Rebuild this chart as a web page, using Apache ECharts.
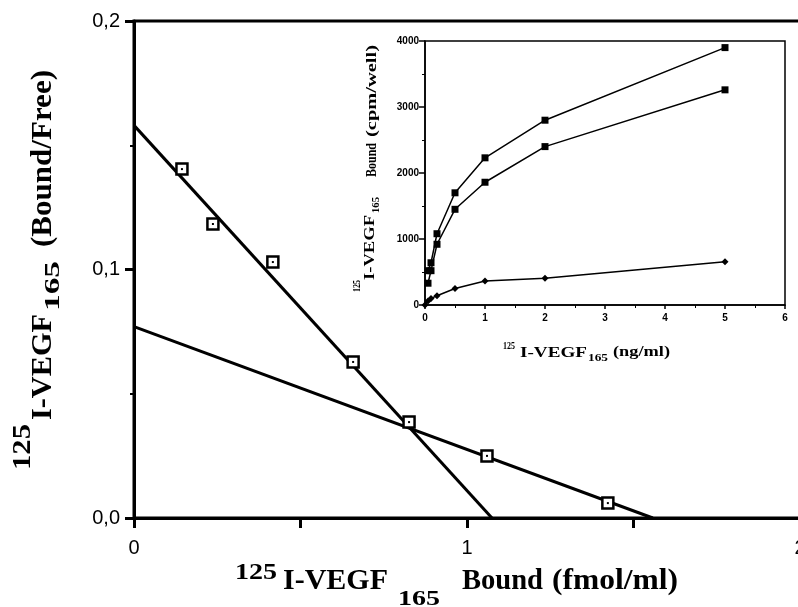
<!DOCTYPE html>
<html>
<head>
<meta charset="utf-8">
<script src="https://cdn.jsdelivr.net/npm/echarts@6/dist/echarts.min.js"></script>
<style>
  html, body { margin: 0; padding: 0; background: #fff; }
  #chart { width: 798px; height: 607px; }
</style>
</head>
<body>
<div id="chart"></div>
<script>
// Scatchard plot (main)
const boundFmol = [0.144, 0.237, 0.417, 0.658, 0.826, 1.06, 1.423];
const boundFree = [0.1404, 0.1183, 0.103, 0.0628, 0.0386, 0.025, 0.006];
// fitted lines, end points
const fitHighX = [0, 1.075];
const fitHighY = [0.158, 0];
const fitLowX = [0, 1.558];
const fitLowY = [0.077, 0];

// inset saturation curves
const concNg = [0.05, 0.1, 0.2, 0.5, 1, 2, 5];
const totalBound = [520, 640, 1080, 1700, 2230, 2800, 3900];
const specificBound = [330, 520, 920, 1450, 1860, 2400, 3260];
const concNgNs = [0, 0.05, 0.1, 0.2, 0.5, 1, 2, 5];
const nonspecBound = [0, 60, 100, 140, 250, 365, 405, 655];

const pairs = (xs, ys) => xs.map((x, i) => [x, ys[i]]);

const serif = "'Liberation Serif', 'DejaVu Serif', serif";
const sans = "'Liberation Sans', Arial, sans-serif";

// measure text so each title piece can be stretched to the scanned length
const measureCtx = document.createElement('canvas').getContext('2d');

// one piece of a title (super/subscripts are separate pieces)
function piece(text, x, y, size, len, vertical) {
    const font = 'bold ' + size + 'px ' + serif;
    measureCtx.font = font;
    const w = measureCtx.measureText(text).width;
    return {
        type: 'text',
        x: x,
        y: y,
        rotation: vertical ? Math.PI / 2 : 0,
        scaleX: len / w,
        z: 100,
        style: { text: text, font: font, fill: '#000', align: 'left', verticalAlign: 'middle' }
    };
}

const options = {
    animation: false,
    backgroundColor: '#fff',
    grid: [
        { left: 134, top: 21, width: 666, height: 497, show: true, borderColor: '#000', borderWidth: 3, outerBoundsMode: 'none' },
        { left: 425, top: 41, width: 360, height: 264, show: true, borderColor: '#000', borderWidth: 1.5, outerBoundsMode: 'none' }
    ],
    xAxis: [
        {
            gridIndex: 0, type: 'value', min: 0, max: 2, interval: 0.5,
            splitLine: { show: false },
            axisLine: { lineStyle: { color: '#000', width: 3 } },
            axisTick: { length: 10, lineStyle: { color: '#000', width: 3 } },
            axisLabel: {
                margin: 20, color: '#000', fontSize: 20, fontFamily: sans,
                formatter: v => (v % 1 === 0 ? String(v) : '')
            }
        },
        {
            gridIndex: 1, type: 'value', min: 0, max: 6, interval: 1,
            splitLine: { show: false },
            axisLine: { lineStyle: { color: '#000', width: 1.5 } },
            axisTick: { length: 4, lineStyle: { color: '#000', width: 1.5 } },
            minorTick: { show: true, splitNumber: 2, length: 3, lineStyle: { color: '#000', width: 1 } },
            axisLabel: { margin: 8, color: '#000', fontSize: 10, fontWeight: 'bold', fontFamily: sans, formatter: v => String(v) }
        }
    ],
    yAxis: [
        {
            gridIndex: 0, type: 'value', min: 0, max: 0.2, interval: 0.1,
            splitLine: { show: false },
            axisLine: { lineStyle: { color: '#000', width: 3 } },
            axisTick: { length: 9, lineStyle: { color: '#000', width: 3 } },
            minorTick: { show: true, splitNumber: 2, length: 4, lineStyle: { color: '#000', width: 2 } },
            axisLabel: {
                margin: 14, color: '#000', fontSize: 20, fontFamily: sans,
                formatter: v => v.toFixed(1).replace('.', ',')
            }
        },
        {
            gridIndex: 1, type: 'value', min: 0, max: 4000, interval: 1000,
            splitLine: { show: false },
            axisLine: { lineStyle: { color: '#000', width: 1.5 } },
            axisTick: { length: 6, lineStyle: { color: '#000', width: 1.5 } },
            minorTick: { show: true, splitNumber: 2, length: 3, lineStyle: { color: '#000', width: 1 } },
            axisLabel: { margin: 6, color: '#000', fontSize: 10, fontWeight: 'bold', fontFamily: sans, formatter: v => String(v) }
        }
    ],
    series: [
        {
            type: 'line', xAxisIndex: 0, yAxisIndex: 0, data: pairs(fitHighX, fitHighY),
            symbol: 'none', lineStyle: { color: '#000', width: 3 }
        },
        {
            type: 'line', xAxisIndex: 0, yAxisIndex: 0, data: pairs(fitLowX, fitLowY),
            symbol: 'none', lineStyle: { color: '#000', width: 3 }
        },
        {
            type: 'scatter', xAxisIndex: 0, yAxisIndex: 0, data: pairs(boundFmol, boundFree),
            symbol: 'rect', symbolSize: 11, z: 5,
            itemStyle: { color: '#fff', borderColor: '#000', borderWidth: 2.5, opacity: 1 }
        },
        {
            // dot inside the open squares
            type: 'scatter', xAxisIndex: 0, yAxisIndex: 0, data: pairs(boundFmol, boundFree),
            symbol: 'rect', symbolSize: 2, z: 6,
            itemStyle: { color: '#000', opacity: 1 }
        },
        {
            type: 'line', xAxisIndex: 1, yAxisIndex: 1, data: pairs(concNg, totalBound),
            symbol: 'rect', symbolSize: 7, lineStyle: { color: '#000', width: 1.5 },
            itemStyle: { color: '#000' }
        },
        {
            type: 'line', xAxisIndex: 1, yAxisIndex: 1, data: pairs(concNg, specificBound),
            symbol: 'rect', symbolSize: 7, lineStyle: { color: '#000', width: 1.5 },
            itemStyle: { color: '#000' }
        },
        {
            type: 'line', xAxisIndex: 1, yAxisIndex: 1, data: pairs(concNgNs, nonspecBound),
            symbol: 'diamond', symbolSize: 7, lineStyle: { color: '#000', width: 1.5 },
            itemStyle: { color: '#000' }
        }
    ],
    graphic: [
        // main x title
        piece('125', 235, 573, 24, 42),
        piece('I-VEGF', 283, 582, 29, 105),
        piece('165', 398, 599, 22, 42),
        piece('Bound', 462, 582, 29, 81),
        piece('(fmol/ml)', 552, 582, 29, 126),
        // main y title, reads bottom to top
        piece('125', 23, 470, 26, 46, true),
        piece('I-VEGF', 43, 420, 30, 106, true),
        piece('165', 53, 311, 22, 50, true),
        piece('(Bound/Free)', 43, 247, 30, 177, true),
        // inset x title
        piece('125', 503, 346, 10, 12),
        piece('I-VEGF', 520, 353, 15, 67),
        piece('165', 588, 358, 11, 20),
        piece('(ng/ml)', 613, 352, 15, 57),
        // inset y title
        piece('125', 357, 292, 10, 12, true),
        piece('I-VEGF', 370, 280, 15, 65, true),
        piece('165', 376, 213, 11, 16, true),
        piece('Bound', 372, 177, 15, 34, true),
        piece('(cpm/well)', 372, 137, 15, 92, true)
    ]
};

var myChart = echarts.init(document.getElementById('chart'));
myChart.setOption(options);
</script>
</body>
</html>
